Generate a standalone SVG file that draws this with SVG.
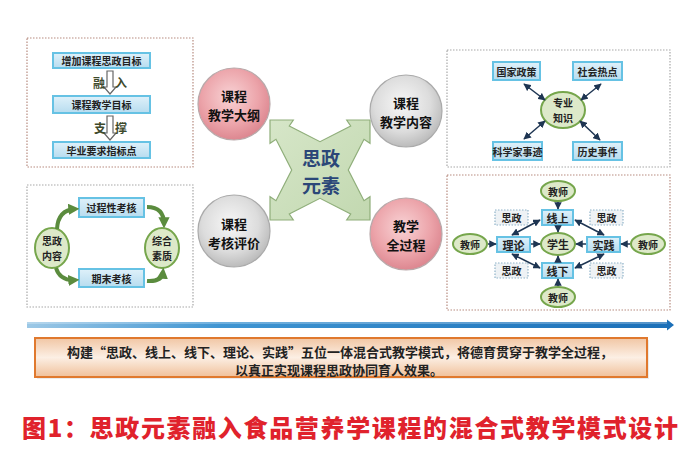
<svg xmlns="http://www.w3.org/2000/svg" width="700" height="473" viewBox="0 0 700 473">
<defs>
  <linearGradient id="boxg" x1="0" y1="0" x2="0" y2="1">
    <stop offset="0" stop-color="#dff1fa"/>
    <stop offset="1" stop-color="#b7dcef"/>
  </linearGradient>
  <radialGradient id="pinkg" cx="0.45" cy="0.4" r="0.65">
    <stop offset="0" stop-color="#f8d3d5"/>
    <stop offset="0.6" stop-color="#eca4aa"/>
    <stop offset="1" stop-color="#d9808a"/>
  </radialGradient>
  <radialGradient id="grayg" cx="0.45" cy="0.4" r="0.65">
    <stop offset="0" stop-color="#f7f7f7"/>
    <stop offset="0.6" stop-color="#dcdcdc"/>
    <stop offset="1" stop-color="#b4b4b4"/>
  </radialGradient>
  <linearGradient id="crossg" x1="0" y1="0" x2="1" y2="1">
    <stop offset="0" stop-color="#d6e6c8"/>
    <stop offset="1" stop-color="#c2d8b0"/>
  </linearGradient>
  <linearGradient id="blueg" x1="0" y1="0" x2="1" y2="0">
    <stop offset="0" stop-color="#9cc8e6"/>
    <stop offset="0.3" stop-color="#3f95d2"/>
    <stop offset="1" stop-color="#1b6fb8"/>
  </linearGradient>
  <linearGradient id="orangeg" x1="0" y1="0" x2="0" y2="1">
    <stop offset="0" stop-color="#f1c6a4"/>
    <stop offset="0.5" stop-color="#fcefe4"/>
    <stop offset="1" stop-color="#f0c09a"/>
  </linearGradient>
  <marker id="ah" viewBox="0 0 10 10" refX="9" refY="5" markerWidth="5" markerHeight="5" orient="auto-start-reverse">
    <path d="M0,0 L10,5 L0,10 z" fill="#1e3552"/>
  </marker>
  <marker id="gh" viewBox="0 0 10 10" refX="6" refY="5" markerWidth="2.8" markerHeight="2.8" orient="auto">
    <path d="M0,0 L10,5 L0,10 z" fill="#5b8c3e"/>
  </marker>
  <style>
    text{font-family:"Noto Sans CJK SC","Noto Sans",sans-serif;font-weight:bold;fill:#222;text-anchor:middle;dominant-baseline:central}
    .panel{fill:#fff;stroke-width:1.2;stroke-dasharray:1.5 1.5}
    .pr{stroke:#b78c80}
    .pg{stroke:#a8a8a8}
    .box{fill:url(#boxg);stroke:#66c2e4;stroke-width:2}
    .sbox{fill:#eef2f5;stroke:#8fb3c9;stroke-width:1.2;stroke-dasharray:1.5 1.5}
    .ell{fill:#dde9c9;stroke:#76a64c;stroke-width:2}
    .t10{font-size:10px}
    .t11{font-size:11px}
    .t12{font-size:12px}
    .ct{font-size:13px;fill:#111}
    .nav{stroke:#1e3552;stroke-width:1.5;fill:none;marker-end:url(#ah)}
    .dbl{marker-start:url(#ah)}
    .garr{stroke:#5b8c3e;stroke-width:4;fill:none;marker-end:url(#gh)}
    .hol{fill:#fff;stroke:#666;stroke-width:1.2}
  </style>
</defs>
<rect width="700" height="473" fill="#fff"/>

<!-- top-left panel -->
<g id="panel-goals">
  <rect class="panel pr" x="27" y="38" width="166" height="129"/>
  <rect class="box" x="53" y="53" width="97" height="15"/>
  <text class="t10" x="101.5" y="60.5">增加课程思政目标</text>
  <rect class="box" x="53" y="96" width="97" height="17"/>
  <text class="t10" x="101.5" y="104.5">课程教学目标</text>
  <rect class="box" x="53" y="142" width="97" height="16"/>
  <text class="t10" x="101.5" y="150">毕业要求指标点</text>
  <polygon class="hol" points="107,71 113,71 113,87 116,87 110,94 104,87 107,87"/>
  <polygon class="hol" points="107,116 113,116 113,133 116,133 110,140 104,133 107,133"/>
  <text class="t12" x="99" y="82" style="fill:#3e4a2c">融</text>
  <text class="t12" x="121" y="82" style="fill:#3e4a2c">入</text>
  <text class="t12" x="100" y="127" style="fill:#3e4a2c">支</text>
  <text class="t12" x="121" y="127" style="fill:#3e4a2c">撑</text>
</g>

<!-- bottom-left panel -->
<g id="panel-eval">
  <rect class="panel pg" x="27" y="185" width="166" height="122"/>
  <rect class="box" x="79" y="198" width="65" height="19"/>
  <text class="t10" x="111.5" y="207.5">过程性考核</text>
  <rect class="box" x="79" y="269" width="65" height="18"/>
  <text class="t10" x="111.5" y="278">期末考核</text>
  <ellipse class="ell" cx="52" cy="248" rx="17" ry="20"/>
  <text class="t10" x="52" y="240.5">思政</text>
  <text class="t10" x="52" y="255.5">内容</text>
  <ellipse class="ell" cx="162" cy="248" rx="17" ry="20"/>
  <text class="t10" x="162" y="240.5">综合</text>
  <text class="t10" x="162" y="255.5">素质</text>
  <g id="green-arrows">
    <path class="garr" d="M57,229 Q58,210 75,209"/>
    <path class="garr" d="M147,207 Q164,207 164,224"/>
    <path class="garr" d="M56,268 Q60,281 75,280"/>
    <path class="garr" d="M147,281 Q162,282 163,272"/>
  </g>
</g>

<!-- top-right panel -->
<g id="panel-content">
  <rect class="panel pg" x="447" y="50" width="223" height="117"/>
  <rect class="box" x="493" y="62" width="47" height="18"/>
  <text class="t10" x="516.5" y="71">国家政策</text>
  <rect class="box" x="573" y="62" width="49" height="18"/>
  <text class="t10" x="597.5" y="71">社会热点</text>
  <rect class="box" x="493" y="142" width="49" height="18"/>
  <text class="t10" x="517.5" y="151">科学家事迹</text>
  <rect class="box" x="573" y="142" width="49" height="18"/>
  <text class="t10" x="597.5" y="151">历史事件</text>
  <ellipse class="ell" cx="563" cy="110" rx="22" ry="18"/>
  <text class="t10" x="563" y="102.5">专业</text>
  <text class="t10" x="563" y="117.5">知识</text>
  <g id="tr-arrows">
    <line class="nav dbl" x1="524" y1="84" x2="545" y2="100"/>
    <line class="nav dbl" x1="601" y1="84" x2="581" y2="100"/>
    <line class="nav dbl" x1="524" y1="139" x2="545" y2="121"/>
    <line class="nav dbl" x1="600" y1="140" x2="580" y2="121"/>
  </g>
</g>

<!-- bottom-right panel -->
<g id="panel-process">
  <rect class="panel pr" x="447" y="175" width="223" height="135"/>
  <rect class="sbox" x="495" y="210" width="33" height="15"/>
  <text class="t10" x="511.5" y="217.5">思政</text>
  <rect class="sbox" x="590" y="210" width="33" height="15"/>
  <text class="t10" x="606.5" y="217.5">思政</text>
  <rect class="sbox" x="495" y="263" width="33" height="15"/>
  <text class="t10" x="511.5" y="270.5">思政</text>
  <rect class="sbox" x="590" y="263" width="33" height="15"/>
  <text class="t10" x="606.5" y="270.5">思政</text>
  <rect class="box" x="542" y="210" width="31" height="15"/>
  <text class="t11" x="557.5" y="217.5">线上</text>
  <rect class="box" x="542" y="263" width="31" height="15"/>
  <text class="t11" x="557.5" y="270.5">线下</text>
  <rect class="box" x="497" y="237" width="33" height="15"/>
  <text class="t11" x="513.5" y="244.5">理论</text>
  <rect class="box" x="587" y="237" width="33" height="15"/>
  <text class="t11" x="603.5" y="244.5">实践</text>
  <ellipse class="ell" cx="558" cy="244" rx="17" ry="11"/>
  <text class="t11" x="558" y="244">学生</text>
  <ellipse class="ell" cx="558" cy="191" rx="17" ry="10"/>
  <text class="t10" x="558" y="191">教师</text>
  <ellipse class="ell" cx="558" cy="297" rx="17" ry="10"/>
  <text class="t10" x="558" y="297">教师</text>
  <ellipse class="ell" cx="470" cy="244" rx="17" ry="10"/>
  <text class="t10" x="470" y="244">教师</text>
  <ellipse class="ell" cx="648" cy="244" rx="17" ry="10"/>
  <text class="t10" x="648" y="244">教师</text>
  <g id="br-arrows">
    <line class="nav" x1="558" y1="202" x2="558" y2="209"/>
    <line class="nav" x1="558" y1="286" x2="558" y2="279"/>
    <line class="nav" x1="488" y1="244" x2="496" y2="244"/>
    <line class="nav" x1="630" y1="244" x2="621" y2="244"/>
    <line class="nav" x1="558" y1="226" x2="558" y2="232"/>
    <line class="nav" x1="558" y1="262" x2="558" y2="256"/>
    <line class="nav" x1="531" y1="244" x2="540" y2="244"/>
    <line class="nav" x1="586" y1="244" x2="576" y2="244"/>
    <line class="nav dbl" x1="512" y1="235" x2="540" y2="220"/>
    <line class="nav dbl" x1="575" y1="220" x2="604" y2="235"/>
    <line class="nav dbl" x1="512" y1="254" x2="540" y2="268"/>
    <line class="nav dbl" x1="604" y1="254" x2="575" y2="268"/>
  </g>
</g>

<!-- center cross -->
<g id="cross">
  <polygon fill="url(#crossg)" stroke="#8fae7a" stroke-width="1.2" points="270,120 293.3,120 289.3,126 320,141.7 350.7,126 346.7,120 370,120 370,143.3 364,139.3 348.3,170 364,200.7 370,196.7 370,220 346.7,220 350.7,214 320,198.3 289.3,214 293.3,220 270,220 270,196.7 276,200.7 291.7,170 276,139.3 270,143.3"/>
  <text x="321" y="157" style="font-size:19px;fill:#2b4778">思政</text>
  <text x="321" y="184" style="font-size:19px;fill:#2b4778">元素</text>
</g>

<g id="c-outline">
  <circle cx="234" cy="104" r="36" fill="url(#pinkg)" stroke="#b9a9aa" stroke-width="1.2"/>
  <text class="ct" x="234" y="95">课程</text>
  <text class="ct" x="234" y="114">教学大纲</text>
</g>
<g id="c-content">
  <circle cx="406" cy="111" r="36" fill="url(#grayg)" stroke="#aaa" stroke-width="1.2"/>
  <text class="ct" x="406" y="102">课程</text>
  <text class="ct" x="406" y="121">教学内容</text>
</g>
<g id="c-eval">
  <circle cx="234" cy="231" r="36" fill="url(#grayg)" stroke="#aaa" stroke-width="1.2"/>
  <text class="ct" x="234" y="223">课程</text>
  <text class="ct" x="234" y="242">考核评价</text>
</g>
<g id="c-process">
  <circle cx="406" cy="234" r="36" fill="url(#pinkg)" stroke="#b9a9aa" stroke-width="1.2"/>
  <text class="ct" x="406" y="225">教学</text>
  <text class="ct" x="406" y="244">全过程</text>
</g>

<!-- timeline arrow -->
<g id="timeline">
  <polygon fill="url(#blueg)" points="27,322 667,322 667,319.5 674,325 667,330.5 667,328 27,328"/>
  <rect x="27" y="322" width="640" height="2" fill="#fff" opacity="0.25"/>
</g>

<!-- summary box -->
<g id="summary">
  <rect x="37" y="340" width="612" height="39" fill="#ddd" opacity="0.6"/>
  <rect x="35" y="338" width="612" height="39" fill="url(#orangeg)" stroke="#e0792e" stroke-width="2"/>
  <text x="340" y="351" style="font-size:13px">构建“思政、线上、线下、理论、实践”五位一体混合式教学模式，将德育贯穿于教学全过程，</text>
  <text x="339" y="369" style="font-size:13px">以真正实现课程思政协同育人效果。</text>
</g>

<!-- caption -->
<g id="caption">
  <text x="22" y="426" textLength="656" lengthAdjust="spacing" style="font-size:24px;fill:#e0222c;text-anchor:start;font-weight:900">图1：思政元素融入食品营养学课程的混合式教学模式设计</text>
</g>
</svg>
